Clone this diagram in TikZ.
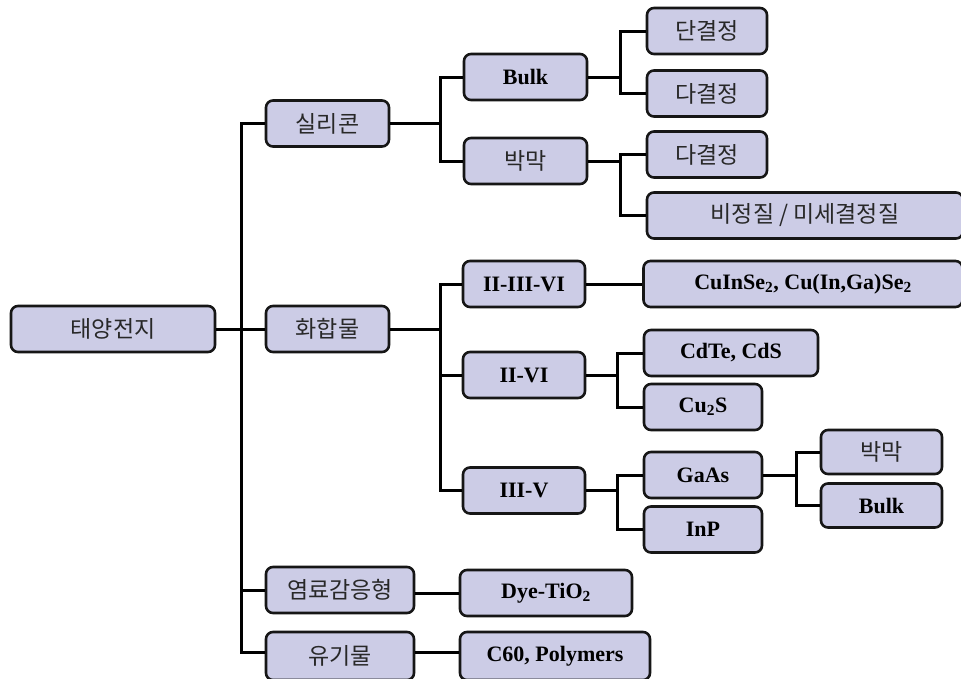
\documentclass[tikz,border=0pt]{standalone}
\usepackage{fontspec}
\setmainfont{Liberation Serif}
\newfontfamily\krfont{Noto Sans CJK KR}
\definecolor{boxfill}{RGB}{204,204,230}
\definecolor{boxline}{RGB}{22,22,22}
\definecolor{krtext}{RGB}{40,40,40}
\tikzset{
  box/.style={draw=boxline, line width=2.6pt, rounded corners=7pt, fill=boxfill,
              minimum height=46pt, inner sep=0pt},
  kbox/.style={box, font=\krfont\fontsize{23}{27}\selectfont, text=krtext},
  ebox/.style={box, font=\bfseries\fontsize{22}{25}\selectfont, text=black},
  link/.style={draw=black, line width=3pt, line join=miter},
}
\begin{document}
\begin{tikzpicture}[x=1pt,y=-1pt]
\useasboundingbox (0,0) rectangle (961,678);
\clip (0,0) rectangle (961,678);
\fill[white] (0,0) rectangle (961,678);

% junction columns
\coordinate (tr) at (241,0);
\coordinate (ja) at (440,0);
\coordinate (jb) at (620,0);
\coordinate (jc) at (617,0);
\coordinate (jd) at (796,0);

% level 0 and 1
\node[kbox, minimum width=204pt] (root) at (113,329) {태양전지};
\node[kbox, minimum width=123pt] (sil) at (327.5,123.5) {실리콘};
\node[kbox, minimum width=123pt] (cmp) at (327.5,329) {화합물};
\node[kbox, minimum width=148pt] (dye) at (340,590) {염료감응형};
\node[kbox, minimum width=148pt, minimum height=48pt] (org) at (340,656) {유기물};

% silicon branch
\node[ebox, minimum width=123pt] (bulkA) at (525.5,77) {Bulk};
\node[kbox, minimum width=123pt] (thinA) at (525.5,161) {박막};
\node[kbox, minimum width=120pt] (mono) at (707,31) {단결정};
\node[kbox, minimum width=120pt] (polyA) at (707,93.5) {다결정};
\node[kbox, minimum width=120pt] (polyB) at (707,154.5) {다결정};
\node[kbox, minimum width=316pt] (amor) at (805,215.5) {비정질 / 미세결정질};

% compound branch
\node[ebox, minimum width=122pt] (gA) at (524,284) {II-III-VI};
\node[ebox, minimum width=122pt] (gB) at (524,375) {II-VI};
\node[ebox, minimum width=122pt] (gC) at (524,490.5) {III-V};
\node[ebox, minimum width=319pt] (cigs) at (803,284) {CuInSe\textsubscript{2}, Cu(In,Ga)Se\textsubscript{2}};
\node[ebox, minimum width=174pt] (cdte) at (731,353) {CdTe, CdS};
\node[ebox, minimum width=118pt] (cus) at (703,407) {Cu\textsubscript{2}S};
\node[ebox, minimum width=118pt] (gaas) at (703,475) {GaAs};
\node[ebox, minimum width=118pt] (inp) at (703,529.5) {InP};
\node[kbox, minimum width=121pt, minimum height=44pt] (thinB) at (881.5,452) {박막};
\node[ebox, minimum width=121pt, minimum height=44pt] (bulkB) at (881.5,505.5) {Bulk};

% dye and organic
\node[ebox, minimum width=172pt] (dtio) at (546,593) {Dye-TiO\textsubscript{2}};
\node[ebox, minimum width=190pt, minimum height=48pt] (cpoly) at (555,656) {C60, Polymers};

% trunk
\draw[link] (root.east) -- (cmp.west);
\draw[link] (sil.west) -- (sil.west -| tr) -- ([yshift=4pt]org.west -| tr) -- ([yshift=4pt]org.west);
\draw[link] (dye.west -| tr) -- (dye.west);

% silicon
\draw[link] (sil.east) -- (sil.east -| ja);
\draw[link] (bulkA.west) -- (bulkA.west -| ja) -- (thinA.west -| ja) -- (thinA.west);
\draw[link] (bulkA.east) -- (bulkA.east -| jb);
\draw[link] (mono.west) -- (mono.west -| jb) -- (polyA.west -| jb) -- (polyA.west);
\draw[link] (thinA.east) -- (thinA.east -| jb);
\draw[link] (polyB.west) -- (polyB.west -| jb) -- (amor.west -| jb) -- (amor.west);

% compound
\draw[link] (cmp.east) -- (cmp.east -| ja);
\draw[link] (gA.west) -- (gA.west -| ja) -- (gC.west -| ja) -- (gC.west);
\draw[link] (gB.west -| ja) -- (gB.west);
\draw[link] (gA.east) -- (cigs.west);
\draw[link] (gB.east) -- (gB.east -| jc);
\draw[link] (cdte.west) -- (cdte.west -| jc) -- (cus.west -| jc) -- (cus.west);
\draw[link] (gC.east) -- (gC.east -| jc);
\draw[link] (gaas.west) -- (gaas.west -| jc) -- (inp.west -| jc) -- (inp.west);
\draw[link] (gaas.east) -- (gaas.east -| jd);
\draw[link] (thinB.west) -- (thinB.west -| jd) -- (bulkB.west -| jd) -- (bulkB.west);

% dye, organic
\draw[link] (dye.east |- dtio.west) -- (dtio.west);
\draw[link] ([yshift=4pt]org.east) -- ([yshift=4pt]cpoly.west);
\end{tikzpicture}
\end{document}
